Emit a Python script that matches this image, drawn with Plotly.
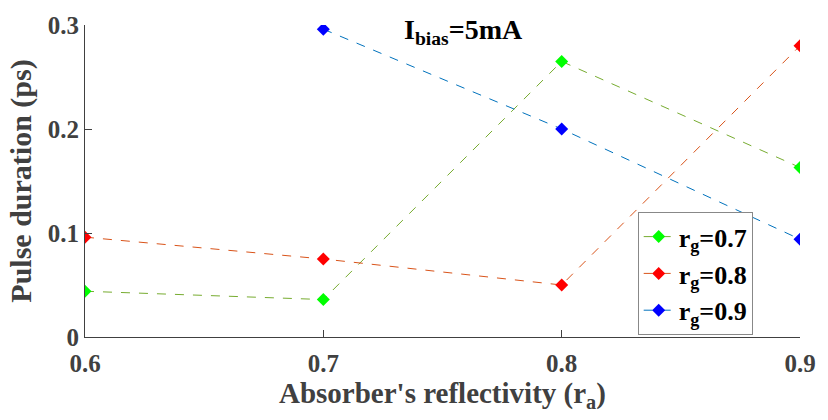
import plotly.graph_objects as go

ra = [0.6, 0.7, 0.8, 0.9]
rg07 = [0.044, 0.036, 0.265, 0.163]
rg08 = [0.096, 0.075, 0.050, 0.280]
ra09 = [0.7, 0.8, 0.9]
rg09 = [0.296, 0.200, 0.094]

x_ticks = [0.6, 0.7, 0.8, 0.9]
y_ticks = [0, 0.1, 0.2, 0.3]
y_ticklabels = ["0", "0.1", "0.2", "0.3"]

FONT = "Liberation Serif"
AX = "#404040"

fig = go.Figure()
series = [
    (ra, rg07, "<b>r<sub>g</sub>=0.7</b>", "#77AC30", "#00FF00"),
    (ra, rg08, "<b>r<sub>g</sub>=0.8</b>", "#D95319", "#FF0000"),
    (ra09, rg09, "<b>r<sub>g</sub>=0.9</b>", "#0072BD", "#0000FF"),
]
for xs, ys, name, lc, mc in series:
    fig.add_trace(go.Scatter(
        x=xs, y=ys, name=name, mode="lines+markers",
        line=dict(color=lc, width=1, dash="dash"),
        marker=dict(symbol="diamond", size=10, color=mc, line=dict(width=0)),
    ))

fig.add_annotation(
    x=0.759, y=0.294, xref="x", yref="y",
    text="<b>I<sub>bias</sub>=5mA</b>", showarrow=False,
    font=dict(family=FONT, size=28, color="black"),
)

# x-axis title placed as annotation for precise vertical position
fig.add_annotation(
    x=0.5, y=-0.122, xref="paper", yref="paper", xanchor="center", yanchor="top",
    text="<b>Absorber's reflectivity (r<sub>a</sub>)</b>", showarrow=False,
    font=dict(family=FONT, size=29, color=AX),
)

fig.update_layout(
    width=828, height=420,
    margin=dict(l=85, r=18, t=17, b=83),
    plot_bgcolor="white", paper_bgcolor="white",
    font=dict(family=FONT, size=24, color=AX),
    showlegend=True,
    legend=dict(
        x=0.773, y=0.40, xanchor="left", yanchor="top",
        bgcolor="white", bordercolor="#888888", borderwidth=1,
        font=dict(family=FONT, size=26, color="black"),
        tracegroupgap=0, itemwidth=30,
    ),
    xaxis=dict(
        range=[0.6, 0.9], tickvals=x_ticks,
        ticktext=[f"<b>{v}</b>" for v in x_ticks],
        ticks="inside", ticklen=7, tickcolor=AX, tickwidth=1,
        ticklabelstandoff=4,
        showline=True, linecolor=AX, linewidth=1, showgrid=False, zeroline=False,
        tickfont=dict(family=FONT, size=25, color=AX),
    ),
    yaxis=dict(
        range=[0, 0.3], tickvals=y_ticks,
        ticktext=[f"<b>{v}</b>" for v in y_ticklabels],
        ticks="inside", ticklen=7, tickcolor=AX, tickwidth=1,
        showline=True, linecolor=AX, linewidth=1, showgrid=False, zeroline=False,
        tickfont=dict(family=FONT, size=25, color=AX),
        title=dict(text="<b>Pulse duration (ps)</b>",
                   font=dict(family=FONT, size=30, color=AX), standoff=7),
    ),
)

fig.write_html("out.html")
